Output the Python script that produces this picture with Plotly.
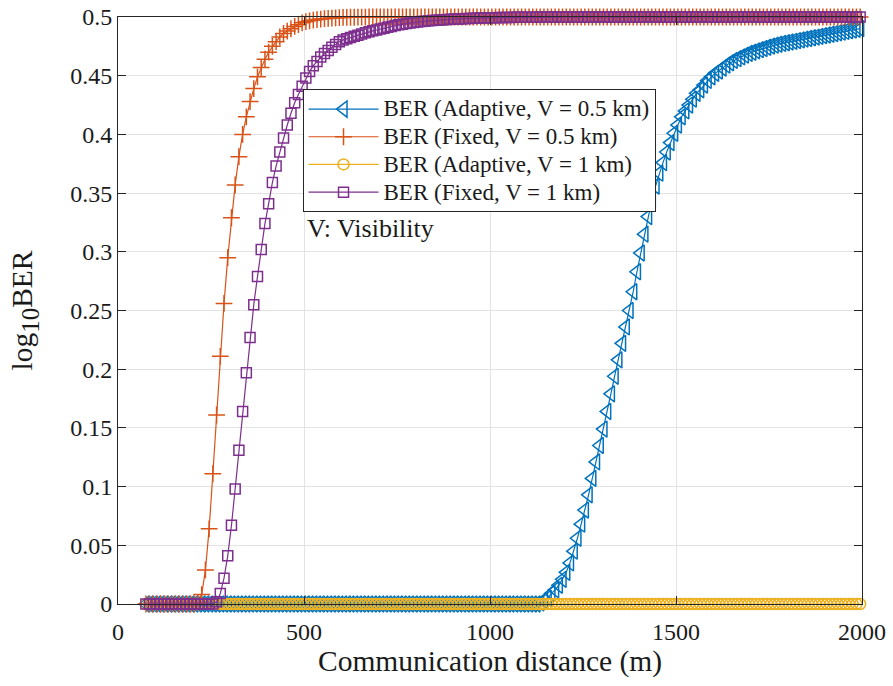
import numpy as np
import plotly.graph_objects as go

# Communication distance grid (m)
distance = list(range(75, 2000, 10))  # 193 points

ber_adaptive_05 = [
    0, 0, 0, 0, 0, 0, 0, 0, 0, 0,
    0, 0, 0, 0, 0, 0, 0, 0, 0, 0,
    0, 0, 0, 0, 0, 0, 0, 0, 0, 0,
    0, 0, 0, 0, 0, 0, 0, 0, 0, 0,
    0, 0, 0, 0, 0, 0, 0, 0, 0, 0,
    0, 0, 0, 0, 0, 0, 0, 0, 0, 0,
    0, 0, 0, 0, 0, 0, 0, 0, 0, 0,
    0, 0, 0, 0, 0, 0, 0, 0, 0, 0,
    0, 0, 0, 0, 0, 0, 0, 0, 0, 0,
    0, 0, 0, 0, 0, 0, 0, 0, 0, 0,
    0, 0, 0, 0, 0, 0, 0.001, 0.003, 0.005, 0.009,
    0.012, 0.016, 0.021, 0.027, 0.035, 0.045, 0.056, 0.068, 0.080, 0.093,
    0.107, 0.121, 0.135, 0.149, 0.164, 0.179, 0.194, 0.208, 0.222, 0.236,
    0.250, 0.266, 0.283, 0.299, 0.315, 0.330, 0.344, 0.356, 0.367, 0.376,
    0.385, 0.393, 0.401, 0.408, 0.415, 0.420, 0.425, 0.430, 0.435, 0.438,
    0.442, 0.446, 0.449, 0.452, 0.454, 0.4565, 0.459, 0.461, 0.463, 0.4645,
    0.466, 0.4675, 0.469, 0.470, 0.4712, 0.4722, 0.4732, 0.4742, 0.4752, 0.476,
    0.4768, 0.4775, 0.4781, 0.4787, 0.4793, 0.4799, 0.4805, 0.4811, 0.4817, 0.4823,
    0.4829, 0.4835, 0.4841, 0.4847, 0.4853, 0.4859, 0.4865, 0.4871, 0.4877, 0.4883,
    0.4889, 0.4895, 0.4901,
]

ber_fixed_05 = [
    0, 0, 0, 0, 0, 0, 0, 0, 0, 0,
    0, 0, 0, 0, 0.001, 0.008, 0.029, 0.064, 0.111, 0.161,
    0.211, 0.256, 0.295, 0.329, 0.357, 0.381, 0.400, 0.415, 0.428, 0.439,
    0.449, 0.457, 0.464, 0.470, 0.475, 0.479, 0.483, 0.486, 0.488, 0.490,
    0.492, 0.4935, 0.495, 0.496, 0.4967, 0.4973, 0.4978, 0.4982, 0.4986, 0.4989,
    0.4991, 0.4993, 0.4995, 0.4996, 0.4997, 0.4998, 0.4998, 0.4999, 0.4999, 0.4999,
    0.5, 0.5, 0.5, 0.5, 0.5, 0.5, 0.5, 0.5, 0.5, 0.5,
    0.5, 0.5, 0.5, 0.5, 0.5, 0.5, 0.5, 0.5, 0.5, 0.5,
    0.5, 0.5, 0.5, 0.5, 0.5, 0.5, 0.5, 0.5, 0.5, 0.5,
    0.5, 0.5, 0.5, 0.5, 0.5, 0.5, 0.5, 0.5, 0.5, 0.5,
    0.5, 0.5, 0.5, 0.5, 0.5, 0.5, 0.5, 0.5, 0.5, 0.5,
    0.5, 0.5, 0.5, 0.5, 0.5, 0.5, 0.5, 0.5, 0.5, 0.5,
    0.5, 0.5, 0.5, 0.5, 0.5, 0.5, 0.5, 0.5, 0.5, 0.5,
    0.5, 0.5, 0.5, 0.5, 0.5, 0.5, 0.5, 0.5, 0.5, 0.5,
    0.5, 0.5, 0.5, 0.5, 0.5, 0.5, 0.5, 0.5, 0.5, 0.5,
    0.5, 0.5, 0.5, 0.5, 0.5, 0.5, 0.5, 0.5, 0.5, 0.5,
    0.5, 0.5, 0.5, 0.5, 0.5, 0.5, 0.5, 0.5, 0.5, 0.5,
    0.5, 0.5, 0.5, 0.5, 0.5, 0.5, 0.5, 0.5, 0.5, 0.5,
    0.5, 0.5, 0.5, 0.5, 0.5, 0.5, 0.5, 0.5, 0.5, 0.5,
    0.5, 0.5, 0.5,
]

ber_adaptive_1 = [
    0, 0, 0, 0, 0, 0, 0, 0, 0, 0,
    0, 0, 0, 0, 0, 0, 0, 0, 0, 0,
    0, 0, 0, 0, 0, 0, 0, 0, 0, 0,
    0, 0, 0, 0, 0, 0, 0, 0, 0, 0,
    0, 0, 0, 0, 0, 0, 0, 0, 0, 0,
    0, 0, 0, 0, 0, 0, 0, 0, 0, 0,
    0, 0, 0, 0, 0, 0, 0, 0, 0, 0,
    0, 0, 0, 0, 0, 0, 0, 0, 0, 0,
    0, 0, 0, 0, 0, 0, 0, 0, 0, 0,
    0, 0, 0, 0, 0, 0, 0, 0, 0, 0,
    0, 0, 0, 0, 0, 0, 0, 0, 0, 0,
    0, 0, 0, 0, 0, 0, 0, 0, 0, 0,
    0, 0, 0, 0, 0, 0, 0, 0, 0, 0,
    0, 0, 0, 0, 0, 0, 0, 0, 0, 0,
    0, 0, 0, 0, 0, 0, 0, 0, 0, 0,
    0, 0, 0, 0, 0, 0, 0, 0, 0, 0,
    0, 0, 0, 0, 0, 0, 0, 0, 0, 0,
    0, 0, 0, 0, 0, 0, 0, 0, 0, 0,
    0, 0, 0, 0, 0, 0, 0, 0, 0, 0,
    0, 0, 0,
]

ber_fixed_1 = [
    0, 0, 0, 0, 0, 0, 0, 0, 0, 0,
    0, 0, 0, 0, 0, 0, 0, 0, 0, 0.002,
    0.009, 0.022, 0.041, 0.067, 0.098, 0.131, 0.164, 0.197, 0.227, 0.255,
    0.279, 0.302, 0.324, 0.341, 0.359, 0.373, 0.385, 0.397, 0.408, 0.418,
    0.427, 0.434, 0.441, 0.448, 0.4535, 0.4585, 0.462, 0.466, 0.469, 0.4715,
    0.4742, 0.4765, 0.479, 0.4805, 0.4815, 0.4826, 0.4836, 0.4845, 0.4856, 0.4866,
    0.4874, 0.4882, 0.4889, 0.4897, 0.4905, 0.4913, 0.492, 0.4927, 0.4933, 0.4939,
    0.4944, 0.4949, 0.4953, 0.4957, 0.4961, 0.4964, 0.4967, 0.497, 0.4973, 0.4975,
    0.4977, 0.4979, 0.4981, 0.4983, 0.4984, 0.4986, 0.4987, 0.4988, 0.4989, 0.499,
    0.4991, 0.4992, 0.4993, 0.4993, 0.4994, 0.4995, 0.4995, 0.4996, 0.4996, 0.4997,
    0.4997, 0.4997, 0.4998, 0.4998, 0.4998, 0.4998, 0.4999, 0.4999, 0.4999, 0.4999,
    0.4999, 0.4999, 0.5, 0.5, 0.5, 0.5, 0.5, 0.5, 0.5, 0.5,
    0.5, 0.5, 0.5, 0.5, 0.5, 0.5, 0.5, 0.5, 0.5, 0.5,
    0.5, 0.5, 0.5, 0.5, 0.5, 0.5, 0.5, 0.5, 0.5, 0.5,
    0.5, 0.5, 0.5, 0.5, 0.5, 0.5, 0.5, 0.5, 0.5, 0.5,
    0.5, 0.5, 0.5, 0.5, 0.5, 0.5, 0.5, 0.5, 0.5, 0.5,
    0.5, 0.5, 0.5, 0.5, 0.5, 0.5, 0.5, 0.5, 0.5, 0.5,
    0.5, 0.5, 0.5, 0.5, 0.5, 0.5, 0.5, 0.5, 0.5, 0.5,
    0.5, 0.5, 0.5, 0.5, 0.5, 0.5, 0.5, 0.5, 0.5, 0.5,
    0.5, 0.5, 0.5,
]

series_names = [
    "BER (Adaptive, V = 0.5 km)",
    "BER (Fixed, V = 0.5 km)",
    "BER (Adaptive, V = 1 km)",
    "BER (Fixed, V = 1 km)",
]
x_ticks = [0, 500, 1000, 1500, 2000]
y_ticks = [0, 0.05, 0.1, 0.15, 0.2, 0.25, 0.3, 0.35, 0.4, 0.45, 0.5]
y_tick_labels = ["0", "0.05", "0.1", "0.15", "0.2", "0.25", "0.3", "0.35", "0.4", "0.45", "0.5"]

for s in (ber_adaptive_05, ber_fixed_05, ber_adaptive_1, ber_fixed_1):
    assert len(s) == len(distance), len(s)

colors = ["#0072BD", "#D95319", "#EDB120", "#7E2F8E"]
symbols = ["triangle-left-open", "cross-thin", "circle-open", "square-open"]
sizes = [14, 12, 11, 10]
data = [ber_adaptive_05, ber_fixed_05, ber_adaptive_1, ber_fixed_1]

FONT = "Liberation Serif"
TXT = "#1a1a1a"
fig = go.Figure()
for name, y, c, sym, sz in zip(series_names, data, colors, symbols, sizes):
    fig.add_trace(go.Scatter(
        x=distance, y=y, mode="lines+markers",
        name='<span style="font-size:23px">' + name + '</span>',
        line=dict(color=c, width=1.2),
        marker=dict(symbol=sym, size=sz, color=c, line=dict(color=c, width=1.5)),
        cliponaxis=False,
    ))

axis_common = dict(
    showline=True, linecolor="#262626", linewidth=1, mirror="ticks",
    ticks="inside", ticklen=8, tickcolor="#262626", tickwidth=1,
    showgrid=True, gridcolor="#e3e3e3", gridwidth=1, zeroline=False,
    tickfont=dict(family=FONT, size=24, color=TXT), automargin=False,
)

fig.update_layout(
    width=893, height=686,
    margin=dict(l=118, r=31, t=17, b=82),
    paper_bgcolor="white", plot_bgcolor="white",
    font=dict(family=FONT, color=TXT),
    xaxis=dict(range=[0, 2000], tickvals=x_ticks, ticklabelstandoff=6,
               title=dict(text="Communication distance (m)", font=dict(family=FONT, size=29.5), standoff=4),
               **axis_common),
    yaxis=dict(range=[0, 0.5], tickvals=y_ticks, ticktext=y_tick_labels,
               title=dict(text='log<sub><span style="font-size:25px">10</span></sub>BER',
                          font=dict(family=FONT, size=29.5), standoff=28),
               **axis_common),
    legend=dict(x=0.248, y=0.877, xanchor="left", yanchor="top",
                bgcolor="white", bordercolor="#262626", borderwidth=1,
                font=dict(family=FONT, size=19, color=TXT),
                itemwidth=70, tracegroupgap=0),
    showlegend=True,
)

fig.add_annotation(x=502, y=0.32, xref="x", yref="y", text="V: Visibility",
                   showarrow=False, xanchor="left", yanchor="middle",
                   font=dict(family=FONT, size=26, color=TXT))

fig.write_html("out.html")
